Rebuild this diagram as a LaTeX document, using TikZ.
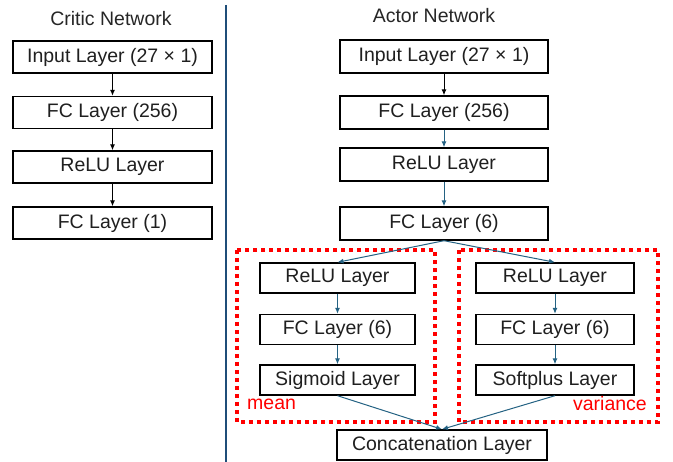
\documentclass[tikz,border=0pt]{standalone}
\usepackage{fontspec}
\setmainfont{Liberation Sans}
\usepackage{tikz}
\usetikzlibrary{arrows.meta}
\definecolor{linkblue}{RGB}{36,98,131}
\definecolor{rulerblue}{RGB}{31,78,121}
\tikzstyle{layer} = [draw=black, line width=1.4pt, fill=white, text=black!88,
    rectangle, inner sep=0pt, font=\fontsize{19.5}{22}\selectfont]
\tikzstyle{nettitle} = [font=\fontsize{19.5}{22}\selectfont, text=black!85]
\tikzstyle{flow} = [-{Latex[length=6pt,width=5pt]}, line width=1pt]
\tikzstyle{branch} = [draw=red, line width=4pt, dash pattern=on 4pt off 4pt]

\begin{document}
\begin{tikzpicture}[x=1pt, y=-1pt]
                \useasboundingbox (0,0) rectangle (673,462);
                % critic network
                \node[nettitle] (ctitle) at (111,19) {Critic Network};
                \node[layer, minimum width=199pt, minimum height=32pt] (cin) at (112.5,57) {Input Layer (27 × 1)};
                \node[layer, minimum width=199pt, minimum height=32pt] (cfc) at (112.5,112.5) {FC Layer (256)};
                \node[layer, minimum width=199pt, minimum height=32pt] (crelu) at (112.5,167) {ReLU Layer};
                \node[layer, minimum width=199pt, minimum height=32pt] (cout) at (112.5,223) {FC Layer (1)};
                \draw[flow] (cin) -- (cfc);
                \draw[flow] (cfc) -- (crelu);
                \draw[flow] (crelu) -- (cout);
                % divider
                \draw[rulerblue, line width=1.5pt] (226,5) -- (226,462);
                % actor network
                \node[nettitle] (atitle) at (434,16) {Actor Network};
                \node[layer, minimum width=208pt, minimum height=33pt] (ain) at (444,56.5) {Input Layer (27 × 1)};
                \node[layer, minimum width=208pt, minimum height=33pt] (afc) at (444,112.5) {FC Layer (256)};
                \node[layer, minimum width=208pt, minimum height=33pt] (arelu) at (444,164.5) {ReLU Layer};
                \node[layer, minimum width=208pt, minimum height=33pt] (afcsix) at (444,223.5) {FC Layer (6)};
                \draw[flow] (ain) -- (afc);
                \draw[flow, linkblue] (afc) -- (arelu);
                \draw[flow, linkblue] (arelu) -- (afcsix);
                % mean branch
                \draw[branch] (237,250) rectangle (435,422);
                \node[layer, minimum width=155pt, minimum height=30pt] (mrelu) at (337.5,278) {ReLU Layer};
                \node[layer, minimum width=155pt, minimum height=30pt] (mfc) at (337.5,329.5) {FC Layer (6)};
                \node[layer, minimum width=155pt, minimum height=30pt] (msig) at (337.5,380) {Sigmoid Layer};
                \node[red, anchor=west, font=\fontsize{19.5}{22}\selectfont, inner sep=0pt] (mlabel) at (247,404) {mean};
                % variance branch
                \draw[branch] (459,250) rectangle (658,422);
                \node[layer, minimum width=158pt, minimum height=30pt] (vrelu) at (555,278) {ReLU Layer};
                \node[layer, minimum width=158pt, minimum height=30pt] (vfc) at (555,329.5) {FC Layer (6)};
                \node[layer, minimum width=158pt, minimum height=30pt] (vsoft) at (555,380) {Softplus Layer};
                \node[red, anchor=east, font=\fontsize{19.5}{22}\selectfont, inner sep=0pt] (vlabel) at (647,404) {variance};
                % concatenation
                \node[layer, minimum width=210pt, minimum height=30pt] (concat) at (442,445) {Concatenation Layer};
                \draw[flow, linkblue] (afcsix.south) -- (mrelu.north);
                \draw[flow, linkblue] (afcsix.south) -- (vrelu.north);
                \draw[flow, linkblue] (mrelu) -- (mfc);
                \draw[flow, linkblue] (mfc) -- (msig);
                \draw[flow, linkblue] (vrelu) -- (vfc);
                \draw[flow, linkblue] (vfc) -- (vsoft);
                \draw[flow, linkblue] (msig.south) -- (concat.north);
                \draw[flow, linkblue] (vsoft.south) -- (concat.north);
            \end{tikzpicture}
\end{document}
